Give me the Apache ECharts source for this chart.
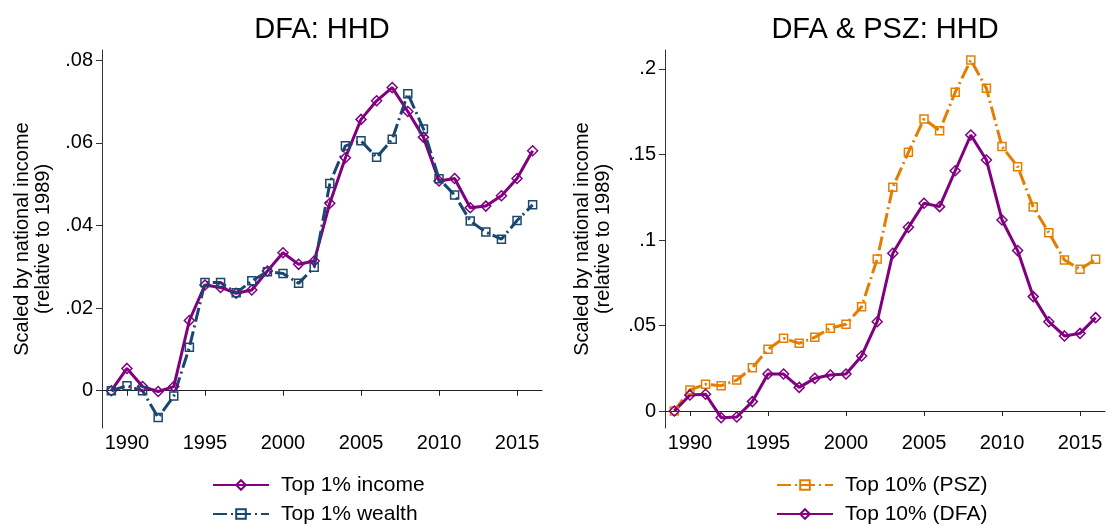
<!DOCTYPE html>
<html>
<head>
<meta charset="utf-8">
<script src="https://cdn.jsdelivr.net/npm/echarts@6/dist/echarts.min.js"></script>
<style>
html,body{margin:0;padding:0;background:#fff;}
#c{width:1107px;height:525px;}
</style>
</head>
<body>
<div id="c"></div>
<script>
// ---- data ----
const years = [1989,1990,1991,1992,1993,1994,1995,1996,1997,1998,1999,2000,2001,2002,2003,2004,2005,2006,2007,2008,2009,2010,2011,2012,2013,2014,2015,2016];
const incomeTop1 = [0,0.0054,0.0010,-0.0002,0.0010,0.0170,0.0256,0.0250,0.0236,0.0244,0.0290,0.0334,0.0306,0.0314,0.0454,0.0564,0.0657,0.0702,0.0734,0.0676,0.0614,0.0508,0.0514,0.0443,0.0447,0.0472,0.0514,0.0581];
const wealthTop1 = [0,0.0012,0.0000,-0.0065,-0.0013,0.0105,0.0262,0.0262,0.0237,0.0266,0.0288,0.0284,0.0260,0.0299,0.0502,0.0593,0.0605,0.0565,0.0609,0.0719,0.0634,0.0513,0.0474,0.0411,0.0384,0.0367,0.0412,0.0450];
const pszTop10 = [0,0.0123,0.0156,0.0148,0.0181,0.0253,0.0361,0.0425,0.0396,0.0431,0.0484,0.0507,0.0610,0.0889,0.1308,0.1513,0.1708,0.1639,0.1864,0.2053,0.1887,0.1546,0.1429,0.1193,0.1043,0.0883,0.0829,0.0887];
const dfaTop10 = [0,0.0094,0.0098,-0.0039,-0.0035,0.0055,0.0216,0.0216,0.0138,0.0191,0.0210,0.0216,0.0322,0.0522,0.0922,0.1074,0.1215,0.1195,0.1405,0.1614,0.1468,0.1117,0.0938,0.0669,0.0522,0.0439,0.0454,0.0546];
const xTicks = [1990,1995,2000,2005,2010,2015];
const leftYTicks = [0,0.02,0.04,0.06,0.08];
const rightYTicks = [0,0.05,0.1,0.15,0.2];
const titles = ['DFA: HHD','DFA & PSZ: HHD'];
const yName = 'Scaled by national income\n(relative to 1989)';
const names = ['Top 1% income','Top 1% wealth','Top 10% (PSZ)','Top 10% (DFA)'];

// ---- styles ----
const FONT = "'Liberation Sans', Arial, Helvetica, sans-serif";
const PURPLE = '#800080', NAVY = '#1a476f', ORANGE = '#e37e00';
const pairs = v => years.map((y,i)=>[y, v[i]]);
const fmtY = v => v === 0 ? '0' : String(v).replace(/^0\./,'.').replace(/^-0\./,'-.');

function xAxis(gi){
  return {
    type:'value', gridIndex:gi, min:1988.4, max:2016.6,
    axisLine:{show:true, lineStyle:{color:'#222', width:1}},
    axisTick:{show:true, length:5, customValues:xTicks, lineStyle:{color:'#222'}},
    axisLabel:{customValues:xTicks, margin:5, fontSize:20, color:'#000', fontFamily:FONT, formatter:v=>String(v)},
    splitLine:{show:false}
  };
}
function yAxis(gi, min, max, ticks, gap){
  return {
    type:'value', gridIndex:gi, min:min, max:max,
    name:yName, nameLocation:'middle', nameRotate:90, nameGap:gap,
    nameTextStyle:{fontSize:20, color:'#000', fontFamily:FONT, lineHeight:21},
    axisLine:{show:true, lineStyle:{color:'#333', width:1}},
    axisTick:{show:true, length:6, customValues:ticks, lineStyle:{color:'#333'}},
    axisLabel:{customValues:ticks, margin:9, fontSize:20, color:'#000', fontFamily:FONT, formatter:fmtY},
    splitLine:{show:false}
  };
}
function series(name, data, gi, color, symbol, size, dashed){
  return {
    name:name, type:'line', xAxisIndex:gi, yAxisIndex:gi, data:pairs(data),
    symbol:symbol, symbolSize:size, showSymbol:true,
    lineStyle:{color:color, width:3, type: dashed ? [14,4,2,4] : 'solid'},
    itemStyle:{color:'rgba(255,255,255,0)', borderColor:color, borderWidth:1.5},
    emphasis:{disabled:true}, animation:false
  };
}
function legend(left, data){
  return {
    orient:'vertical', left:left, top:474, height:60, data:data,
    itemWidth:56, itemHeight:12, itemGap:7, padding:0,
    textStyle:{fontSize:21, color:'#000', fontFamily:FONT, padding:[0,0,0,7], lineHeight:22},
    selectedMode:false
  };
}

const chart = echarts.init(document.getElementById('c'), null, {renderer:'canvas'});
chart.setOption({
  backgroundColor:'#fff',
  animation:false,
  title:[
    {text:titles[0], left:322, top:15, textAlign:'center', padding:0, textStyle:{fontSize:29, fontWeight:'normal', color:'#000', fontFamily:FONT}},
    {text:titles[1], left:885, top:15, textAlign:'center', padding:0, textStyle:{fontSize:29, fontWeight:'normal', color:'#000', fontFamily:FONT}}
  ],
  grid:[
    {left:102, top:50, width:440, height:378, containLabel:false},
    {left:665, top:50, width:440, height:378, containLabel:false}
  ],
  xAxis:[xAxis(0), xAxis(1)],
  yAxis:[
    yAxis(0, -0.00903, 0.0825, leftYTicks, 48),
    yAxis(1, -0.00994, 0.2111, rightYTicks, 51)
  ],
  legend:[legend(212,[names[0],names[1]]), legend(776,[names[2],names[3]])],
  series:[
    series(names[0], incomeTop1, 0, PURPLE, 'diamond', 10, false),
    series(names[1], wealthTop1, 0, NAVY, 'rect', 8, true),
    series(names[2], pszTop10, 1, ORANGE, 'rect', 8, true),
    series(names[3], dfaTop10, 1, PURPLE, 'diamond', 10, false)
  ]
});
</script>
</body>
</html>
